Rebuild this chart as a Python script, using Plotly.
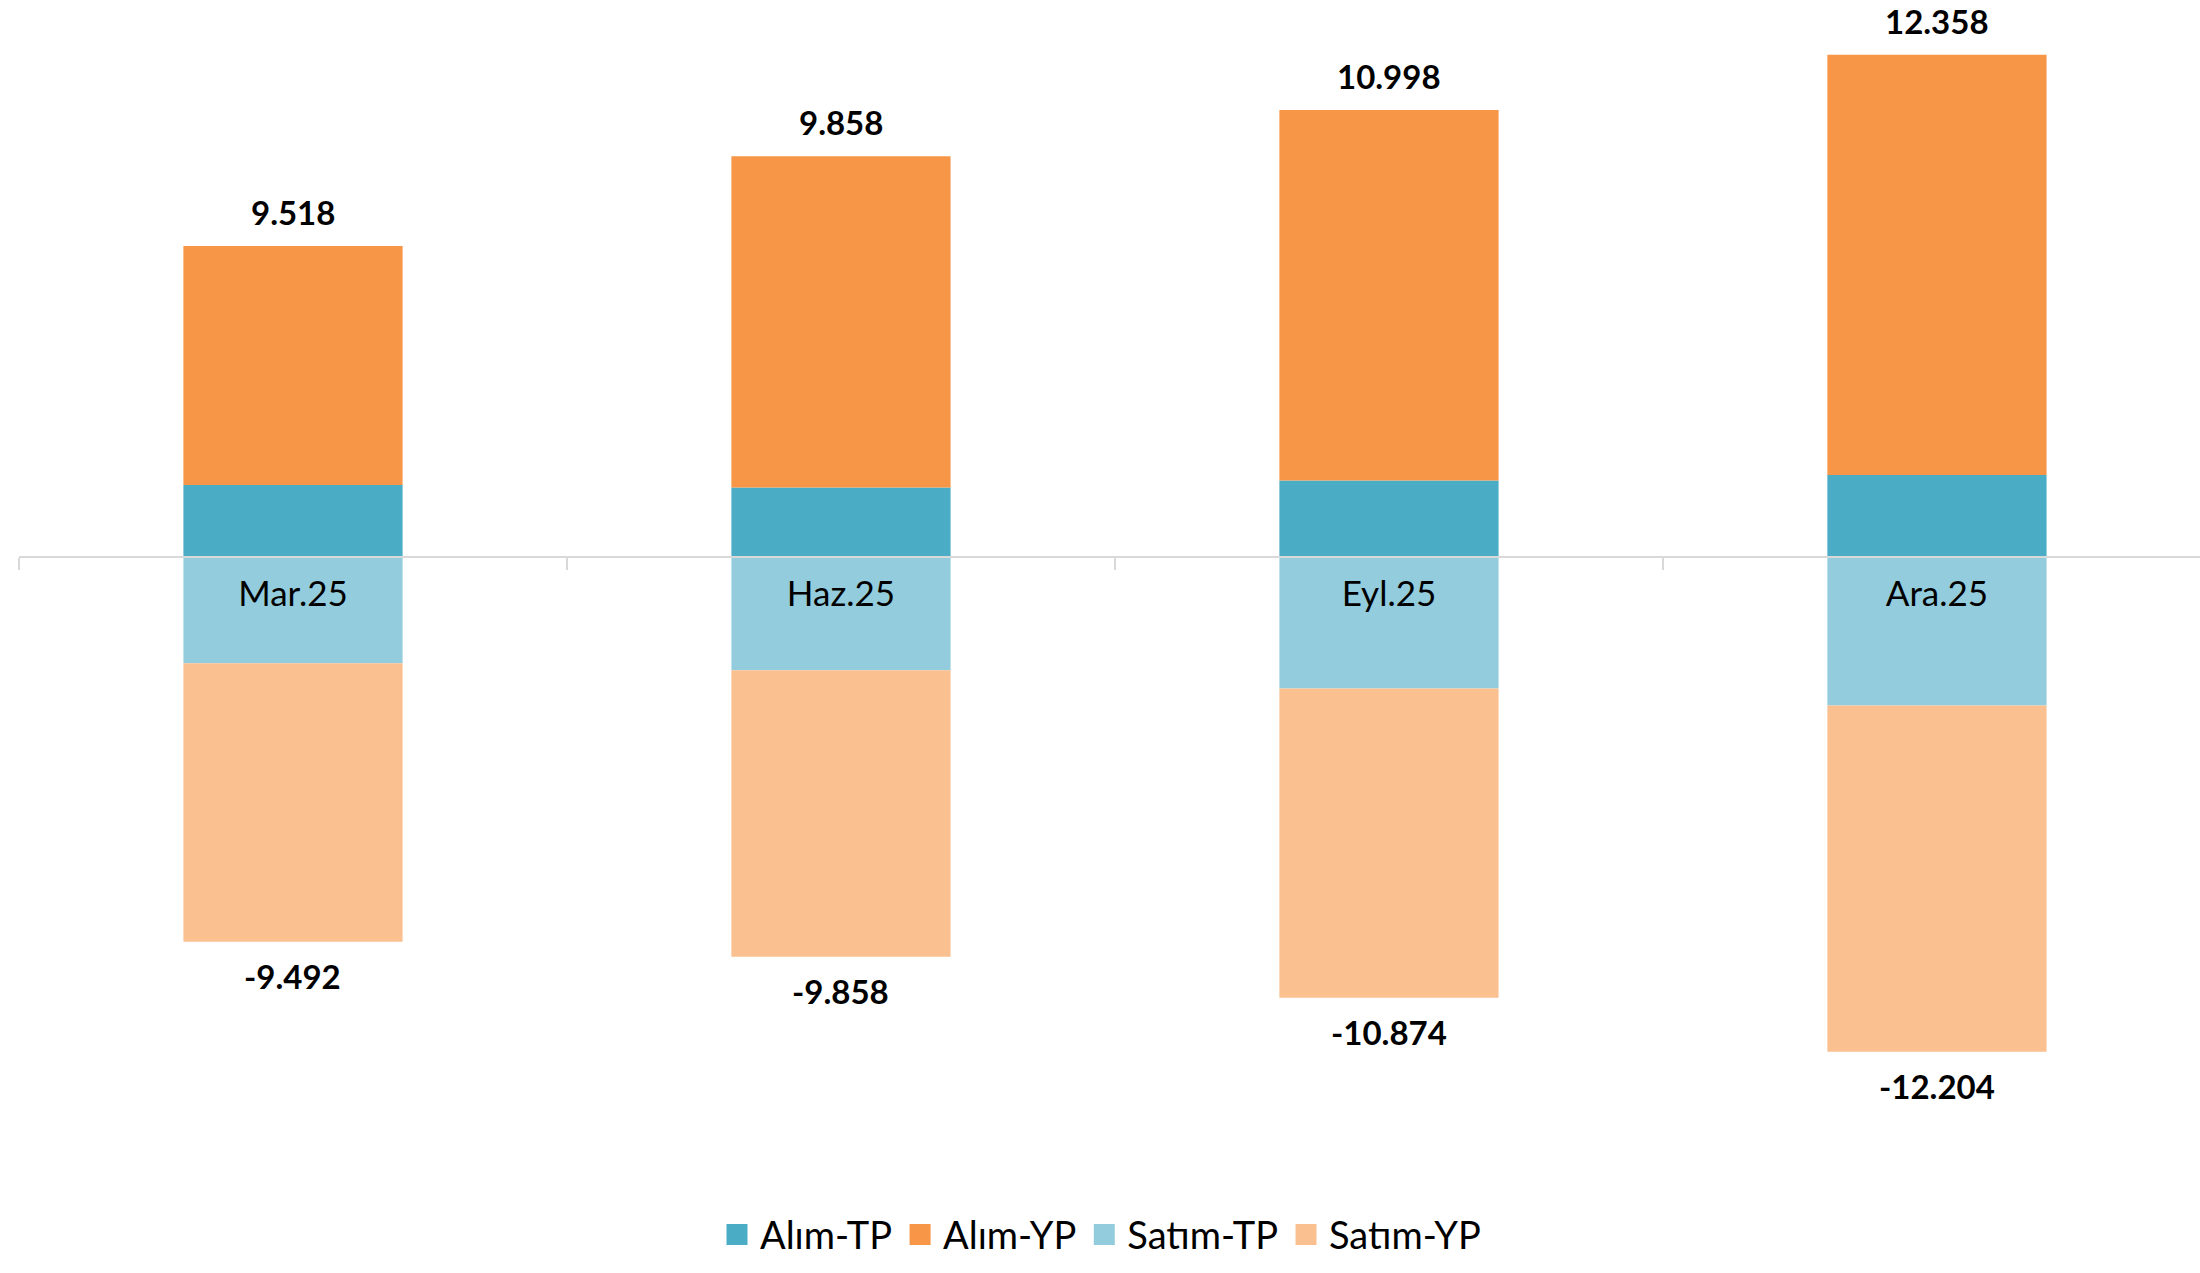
import plotly.graph_objects as go

categories = ["Mar.25", "Haz.25", "Eyl.25", "Ara.25"]
alim_tp = [1.76, 1.70, 1.87, 2.01]
alim_yp = [5.89, 8.16, 9.13, 10.35]
satim_tp = [-2.63, -2.80, -3.25, -3.67]
satim_yp = [-6.86, -7.06, -7.62, -8.53]
top_labels = ["9.518", "9.858", "10.998", "12.358"]
bottom_labels = ["-9.492", "-9.858", "-10.874", "-12.204"]

series_names = ["Alım-TP", "Alım-YP", "Satım-TP", "Satım-YP"]
series_values = [alim_tp, alim_yp, satim_tp, satim_yp]
series_colors = ["#4BACC6", "#F79646", "#93CDDD", "#FAC090"]

fig = go.Figure()
for name, vals, col in zip(series_names, series_values, series_colors):
    fig.add_trace(go.Bar(x=categories, y=vals, name=name,
                         marker=dict(color=col, line=dict(width=0)),
                         showlegend=False, hoverinfo="skip"))
# legend entries with larger square swatches
for name, col in zip(series_names, series_colors):
    fig.add_trace(go.Scatter(x=[None], y=[None], mode="markers", name=name,
                             marker=dict(symbol="square", size=24, color=col,
                                         line=dict(width=5, color=col)),
                             hoverinfo="skip"))

pos_tot = [a + b for a, b in zip(alim_tp, alim_yp)]
neg_tot = [a + b for a, b in zip(satim_tp, satim_yp)]

label_font = dict(family="Lato", size=33, color="#000000", weight="bold")
annotations = []
for c, t, lab in zip(categories, pos_tot, top_labels):
    annotations.append(dict(x=c, y=t, text=lab, showarrow=False, yanchor="bottom",
                            yshift=12, font=label_font))
for c, t, lab in zip(categories, neg_tot, bottom_labels):
    annotations.append(dict(x=c, y=t, text=lab, showarrow=False, yanchor="top",
                            yshift=-12, font=label_font))

ymax = 13.71
ymin = -14.62
zero_pos = -ymin / (ymax - ymin)

fig.update_layout(
    width=2200, height=1273,
    barmode="relative",
    bargap=0.6,
    plot_bgcolor="white",
    paper_bgcolor="white",
    margin=dict(l=19, r=0, t=0, b=123, autoexpand=False),
    font=dict(family="Lato", color="#000000"),
    showlegend=True,
    legend=dict(orientation="h", xref="container", yref="container",
                x=0.5, xanchor="center", y=0.03, yanchor="middle",
                font=dict(family="Lato", size=38, color="#000000"),
                itemwidth=36, traceorder="normal", itemsizing="trace"),
    xaxis=dict(type="category", range=[-0.5, 3.48], anchor="free", position=zero_pos,
               showline=True, linecolor="#D9D9D9", linewidth=2,
               ticks="outside", ticklen=12, tickwidth=2, tickcolor="#D9D9D9",
               tickson="boundaries", showgrid=False, zeroline=False,
               tickfont=dict(family="Lato", size=35, color="#000000"),
               ticklabelstandoff=6, automargin=False,
               layer="above traces", fixedrange=True),
    yaxis=dict(range=[ymin, ymax], visible=False, showgrid=False, zeroline=False,
               fixedrange=True, automargin=False),
    annotations=annotations,
)

fig.write_html("out.html", config={"displayModeBar": False},
               post_script="document.body.style.margin='0px';")
